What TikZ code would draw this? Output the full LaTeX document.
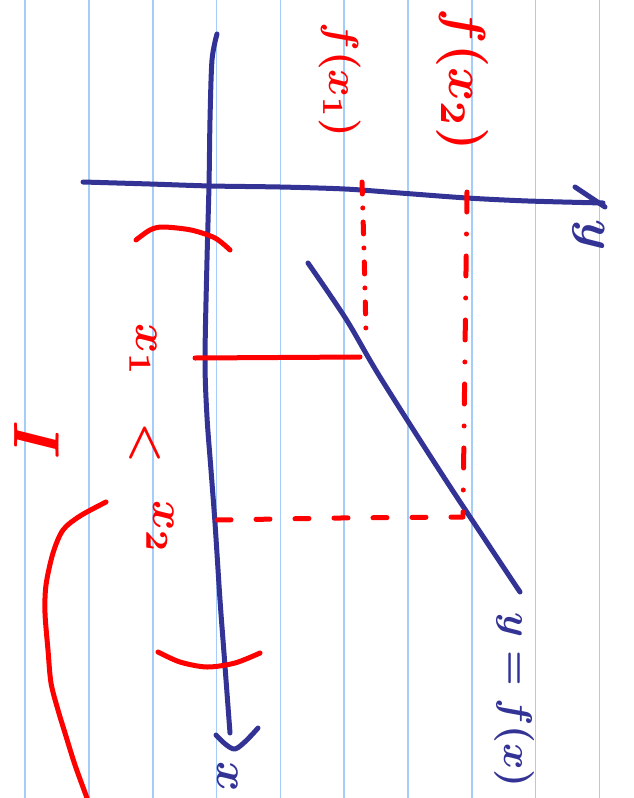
\documentclass[tikz,border=0pt]{standalone}
\usepackage{amsmath}
\definecolor{penblue}{RGB}{51,51,150}
\definecolor{penred}{RGB}{255,0,0}
\definecolor{rule}{RGB}{165,205,250}
\begin{document}
\begin{tikzpicture}[x=1pt,y=-1pt,
  rulel/.style={draw=rule,line width=1.6pt},
  blueink/.style={draw=penblue,line width=5pt,line cap=round,line join=round},
  redink/.style={draw=penred,line width=5pt,line cap=round,line join=round},
  redlbl/.style={text=penred,rotate=-90,inner sep=0pt,font=\boldmath},
  bluelbl/.style={text=penblue,rotate=-90,inner sep=0pt,font=\boldmath}]
\useasboundingbox (0,0) rectangle (634,798);
\clip (0,0) rectangle (634,798);
\fill[white] (0,0) rectangle (634,798);
% ruled paper
\foreach \k in {0,...,9}{
  \draw[rulel] ({25.2+63.8*\k},0) -- ({25.2+63.8*\k},798);
}
% axes
\draw[blueink] plot[smooth] coordinates {(217,34) (212,60) (210,120) (209,185) (207,260) (205,360) (207,417) (211,470) (215,523) (220,600) (224,653) (230,733)};
\draw[blueink] plot[smooth] coordinates {(216,735) (235,749) (258,728)};
\draw[blueink] plot[smooth] coordinates {(83,182) (150,184) (211,186) (280,187) (345,189) (400,193) (467,198) (528,201) (603,203)};
\draw[blueink] (575,187) -- (605,207);
% graph
\draw[blueink] plot[smooth,tension=0.5] coordinates {(308,263) (346,319) (380,377) (447,482) (520,592)};
% red guides
\draw[redink,dash pattern=on 12pt off 14pt on 0pt off 14pt] (362,182) -- (364,250) -- (366,333);
\draw[redink,dash pattern=on 20pt off 22pt on 0pt off 22pt] (467,192) -- (465,350) -- (463,515);
\draw[redink,dash pattern=on 14pt off 25pt] (217,520) -- (340,518) -- (463,517);
\draw[redink] (195,358) -- (360,357);
% interval brackets
\draw[redink] plot[smooth] coordinates {(136,240) (150,230) (163,227) (191,230) (215,238) (230,250)};
\draw[redink] plot[smooth] coordinates {(158,652) (180,662) (207,667) (235,663) (260,653)};
% big curve
\draw[redink] plot[smooth] coordinates {(106,502) (80,516) (63,530) (53,553) (46,585) (45,613) (48,650) (51,683) (58,710) (65,733) (75,765) (87,798) (95,820)};
% labels
\node[redlbl,scale=4.2] (fx1) at (340,80) {$f(x_1)$};
\node[redlbl,scale=5.2] (fx2) at (462,80) {$f(x_2)$};
\node[redlbl,scale=4.6] (x1) at (143,350) {$x_1$};
\node[redlbl,scale=4.6] (lt) at (145,443) {$<$};
\node[redlbl,scale=4.6] (x2) at (160,527) {$x_2$};
\node[redlbl,scale=6.5] (I) at (37,440) {$I$};
\node[bluelbl,scale=4.0] (yfx) at (514,700) {$y=f(x)$};
\node[bluelbl,scale=5] (ylab) at (589,235) {$y$};
\node[bluelbl,scale=4.6] (xlab) at (228,777) {$x$};
\end{tikzpicture}
\end{document}
